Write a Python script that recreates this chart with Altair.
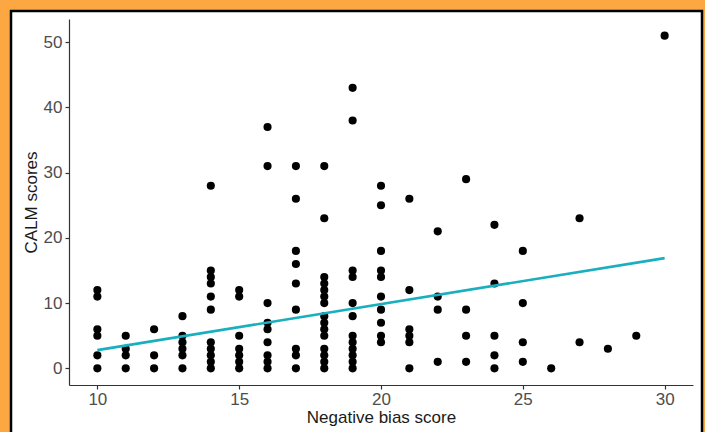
import altair as alt
import pandas as pd

# Negative bias score (x) -> CALM scores (y) visible positions
bias_10 = [0, 2, 5, 6, 11, 12]
bias_11 = [0, 2, 3, 5]
bias_12 = [0, 2, 6]
bias_13 = [0, 2, 3, 4, 5, 8]
bias_14 = [0, 1, 2, 3, 4, 9, 11, 13, 14, 15, 28]
bias_15 = [0, 1, 2, 3, 5, 11, 12]
bias_16 = [0, 1, 2, 4, 6, 7, 10, 31, 37]
bias_17 = [0, 2, 3, 9, 13, 16, 18, 26, 31]
bias_18 = [0, 1, 2, 3, 5, 6, 7, 8, 10, 11, 12, 13, 14, 23, 31]
bias_19 = [0, 1, 2, 3, 4, 5, 8, 10, 14, 15, 38, 43]
bias_20 = [4, 5, 7, 9, 11, 14, 15, 18, 25, 28]
bias_21 = [0, 4, 5, 6, 12, 26]
bias_22 = [1, 9, 11, 21]
bias_23 = [1, 5, 9, 29]
bias_24 = [0, 2, 5, 13, 22]
bias_25 = [1, 4, 10, 18]
bias_26 = [0]
bias_27 = [4, 23]
bias_28 = [3]
bias_29 = [5]
bias_30 = [51]

columns = {
    10: bias_10, 11: bias_11, 12: bias_12, 13: bias_13, 14: bias_14,
    15: bias_15, 16: bias_16, 17: bias_17, 18: bias_18, 19: bias_19,
    20: bias_20, 21: bias_21, 22: bias_22, 23: bias_23, 24: bias_24,
    25: bias_25, 26: bias_26, 27: bias_27, 28: bias_28, 29: bias_29,
    30: bias_30,
}

# Fitted line endpoints
fit_x = [10, 30]
fit_y = [2.8, 16.9]

x_ticks = [10, 15, 20, 25, 30]
y_ticks = [0, 10, 20, 30, 40, 50]

rows = [{"bias": k, "calm": v} for k, vals in columns.items() for v in vals]
df = pd.DataFrame(rows)
fit_df = pd.DataFrame({"bias": fit_x, "calm": fit_y})

W, H = 624, 366

xscale = alt.Scale(domain=[9, 31], nice=False, zero=False)
yscale = alt.Scale(domain=[-2.55, 53.55], nice=False, zero=False)

panel = alt.Chart(pd.DataFrame({"a": [1]})).mark_rect(
    fill="white", stroke="black", strokeWidth=2.5
).encode(
    x=alt.value(-58), x2=alt.value(633),
    y=alt.value(-8), y2=alt.value(430),
)

axis_common = dict(
    domainColor="#333333", domainWidth=1.2,
    tickColor="#333333", tickWidth=1.2, tickSize=4,
    labelColor="#4d4d4d", labelFontSize=17, labelFont="Liberation Sans",
    titleColor="#1a1a1a", titleFontSize=17, titleFont="Liberation Sans",
    titleFontWeight="normal", grid=False, zindex=2,
)

points = alt.Chart(df).mark_circle(size=66, color="black", opacity=1).encode(
    x=alt.X("bias:Q", scale=xscale,
            axis=alt.Axis(values=x_ticks, title="Negative bias score",
                          labelPadding=2, titlePadding=2, **axis_common)),
    y=alt.Y("calm:Q", scale=yscale,
            axis=alt.Axis(values=y_ticks, title="CALM scores",
                          labelPadding=3, titlePadding=3, **axis_common)),
)

line = alt.Chart(fit_df).mark_line(color="#19AFBE", strokeWidth=2.6).encode(
    x=alt.X("bias:Q", scale=xscale),
    y=alt.Y("calm:Q", scale=yscale),
)

chart = alt.layer(panel, points, line).properties(
    width=W, height=H,
    background="#FBA843",
    padding={"left": 69, "top": 19, "right": 12, "bottom": 47},
    autosize=alt.AutoSizeParams(type="none"),
).configure_view(stroke=None)

chart.save("out.html", embed_options={"renderer": "svg", "actions": False})
